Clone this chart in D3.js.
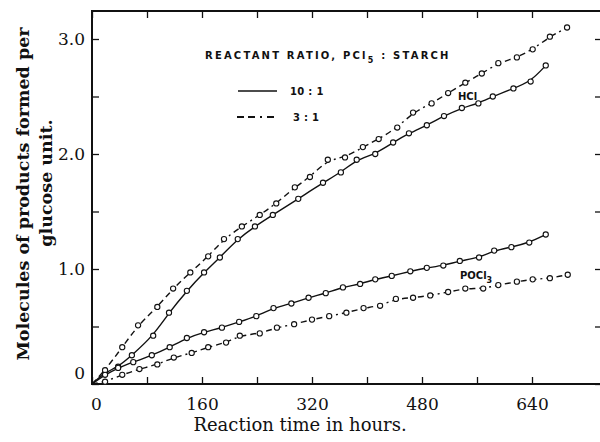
<!DOCTYPE html>
<html lang="en">
<head>
<meta charset="UTF-8">
<title>PCl5 starch reaction</title>
<style>
  body { margin: 0; background: #fff; }
  svg { display: block; }
  .axis text { font-family: "DejaVu Serif", serif; font-size: 17px; fill: #111; }
  .axis line { stroke: #111; stroke-width: 1.3; }
  .axis .domain { display: none; }
</style>
</head>
<body>
<svg></svg>
<script src="https://d3js.org/d3.v7.min.js"></script>
<script>
  // hours, molecules per glucose unit
  var hcl10Hours = [0, 19, 38, 58, 89, 112, 138, 163, 186, 212, 237, 263, 300, 336, 362, 385, 412, 438, 461, 487, 512, 538, 562, 583, 613, 638, 660];
  var hcl10Vals  = [0, 0.10, 0.15, 0.25, 0.42, 0.62, 0.81, 0.97, 1.10, 1.26, 1.37, 1.47, 1.61, 1.75, 1.84, 1.95, 2.00, 2.10, 2.18, 2.25, 2.33, 2.40, 2.44, 2.50, 2.57, 2.63, 2.77];

  var hcl3Hours = [0, 19, 44, 67, 95, 118, 143, 169, 192, 218, 244, 268, 295, 317, 343, 368, 394, 417, 444, 467, 494, 518, 543, 567, 591, 618, 641, 666, 691];
  var hcl3Vals  = [0, 0.12, 0.32, 0.51, 0.67, 0.83, 0.97, 1.11, 1.26, 1.37, 1.47, 1.57, 1.71, 1.80, 1.95, 1.97, 2.06, 2.13, 2.23, 2.36, 2.44, 2.53, 2.62, 2.70, 2.79, 2.84, 2.91, 3.02, 3.10];

  var pocl10Hours = [0, 19, 38, 60, 87, 113, 138, 163, 189, 214, 239, 264, 290, 315, 340, 365, 390, 412, 436, 463, 487, 511, 535, 563, 585, 610, 636, 660];
  var pocl10Vals  = [0, 0.08, 0.14, 0.19, 0.25, 0.32, 0.40, 0.45, 0.49, 0.54, 0.59, 0.66, 0.70, 0.75, 0.79, 0.84, 0.87, 0.91, 0.94, 0.98, 1.01, 1.03, 1.07, 1.10, 1.16, 1.19, 1.23, 1.30];

  var pocl3Hours = [0, 19, 44, 69, 95, 119, 145, 169, 195, 215, 244, 269, 294, 320, 345, 370, 395, 419, 442, 467, 492, 518, 543, 569, 591, 618, 641, 666, 692];
  var pocl3Vals  = [0, 0.02, 0.08, 0.13, 0.17, 0.23, 0.27, 0.32, 0.36, 0.42, 0.44, 0.49, 0.52, 0.56, 0.59, 0.62, 0.66, 0.68, 0.74, 0.75, 0.77, 0.80, 0.83, 0.83, 0.86, 0.89, 0.91, 0.92, 0.95];

  var xTicks = [0, 80, 160, 240, 320, 400, 480, 560, 640];
  var xLabels = [0, 160, 320, 480, 640];
  var yTicks = [0, 0.5, 1, 1.5, 2, 2.5, 3];

  var W = 600, H = 442;
  var padL = 92, padR = 601, padT = 11, padB = 384;

  var svg = d3.select('svg').attr('width', W).attr('height', H);

  var x = d3.scaleLinear().domain([0, 640]).range([padL, 532]);
  var y = d3.scaleLinear().domain([0, 3]).range([padB, 39]);

  // ticks
  var fmtY = d => (d % 1 === 0 ? (d === 0 ? "0" : d.toFixed(1)) : "");
  var gx = svg.append('g').attr('class', 'axis').attr('transform', 'translate(0,' + padB + ')')
    .call(d3.axisBottom(x).tickValues(xTicks).tickSize(-7).tickSizeOuter(0).tickPadding(14)
      .tickFormat(d => xLabels.indexOf(d) >= 0 ? d : ""));
  gx.selectAll('.tick text').attr('dx', d => d === 0 ? 4 : 0);

  var gy = svg.append('g').attr('class', 'axis').attr('transform', 'translate(' + padL + ',0)')
    .call(d3.axisLeft(y).tickValues(yTicks).tickSize(-7).tickSizeOuter(0).tickPadding(7).tickFormat(fmtY));
  gy.selectAll('.tick text').attr('dy', d => d === 0 ? '-0.35em' : '0.32em');

  svg.append('g').attr('class', 'axis').attr('transform', 'translate(0,' + padT + ')')
    .call(d3.axisTop(x).tickValues(xTicks).tickSize(-7).tickSizeOuter(0).tickFormat(""));

  svg.append('g').attr('class', 'axis').attr('transform', 'translate(' + padR + ',0)')
    .call(d3.axisRight(y).tickValues(yTicks).tickSize(-6).tickSizeOuter(0).tickFormat(""));

  // frame
  svg.append('path')
    .attr('d', 'M' + padR + ',' + padT + 'H' + padL + 'V' + padB + 'H' + padR)
    .attr('fill', 'none').attr('stroke', '#111').attr('stroke-width', 2);

  // series
  var dashDot = '6,4,6,4,2,4';
  var series = [
    { h: hcl10Hours, v: hcl10Vals, dash: null },
    { h: hcl3Hours, v: hcl3Vals, dash: dashDot },
    { h: pocl10Hours, v: pocl10Vals, dash: null },
    { h: pocl3Hours, v: pocl3Vals, dash: dashDot }
  ];

  var line = d3.line().x(d => x(d[0])).y(d => y(d[1])).curve(d3.curveBasis);

  series.forEach(s => {
    var pts = s.h.map((h, i) => [h, s.v[i]]);
    svg.append('path').datum(pts).attr('d', line)
      .attr('fill', 'none').attr('stroke', '#111').attr('stroke-width', 1.4)
      .attr('stroke-dasharray', s.dash);
    svg.selectAll(null).data(pts.slice(1)).enter().append('circle')
      .attr('cx', d => x(d[0])).attr('cy', d => y(d[1])).attr('r', 2.6)
      .attr('fill', '#fff').attr('stroke', '#111').attr('stroke-width', 1.1);
  });

  // legend
  var sans = '"DejaVu Sans", sans-serif';
  var leg = svg.append('text').attr('x', 205).attr('y', 59)
    .attr('font-family', sans).attr('font-size', 10).attr('font-weight', 'bold')
    .attr('letter-spacing', 2.2).attr('fill', '#111');
  leg.append('tspan').text('REACTANT  RATIO,   PCl');
  leg.append('tspan').attr('font-size', 8).attr('dy', 4).text('5');
  leg.append('tspan').attr('dy', -4).text(' : STARCH');

  svg.append('line').attr('x1', 238).attr('x2', 277).attr('y1', 91).attr('y2', 91)
    .attr('stroke', '#111').attr('stroke-width', 1.4);
  svg.append('line').attr('x1', 237).attr('x2', 277).attr('y1', 117).attr('y2', 117)
    .attr('stroke', '#111').attr('stroke-width', 2).attr('stroke-dasharray', '7,4,7,5,2,5');
  svg.append('text').attr('x', 290).attr('y', 95).attr('font-family', sans).attr('font-size', 10)
    .attr('font-weight', 'bold').attr('letter-spacing', 0.3).attr('fill', '#111').text('10 : 1');
  svg.append('text').attr('x', 293).attr('y', 121).attr('font-family', sans).attr('font-size', 10)
    .attr('font-weight', 'bold').attr('letter-spacing', 0.3).attr('fill', '#111').text('3 : 1');

  // curve labels
  svg.append('text').attr('x', 458).attr('y', 100).attr('font-family', sans).attr('font-size', 10)
    .attr('font-weight', 'bold').attr('fill', '#111').text('HCl');
  var po = svg.append('text').attr('x', 460).attr('y', 279).attr('font-family', sans).attr('font-size', 10)
    .attr('font-weight', 'bold').attr('fill', '#111');
  po.append('tspan').text('POCl');
  po.append('tspan').attr('font-size', 8).attr('dy', 4).text('3');

  // axis titles
  var serif = '"DejaVu Serif", serif';
  svg.append('text').attr('x', 300).attr('y', 431).attr('text-anchor', 'middle')
    .attr('font-family', serif).attr('font-size', 18).attr('fill', '#111').text('Reaction time in hours.');
  svg.append('text').attr('transform', 'translate(29,194) rotate(-90)').attr('text-anchor', 'middle')
    .attr('font-family', serif).attr('font-size', 17.5).attr('font-weight', 'bold').attr('fill', '#111')
    .text('Molecules of products formed per');
  svg.append('text').attr('transform', 'translate(52,183) rotate(-90)').attr('text-anchor', 'middle')
    .attr('font-family', serif).attr('font-size', 17.5).attr('font-weight', 'bold').attr('fill', '#111')
    .text('glucose unit.');
</script>
</body>
</html>
